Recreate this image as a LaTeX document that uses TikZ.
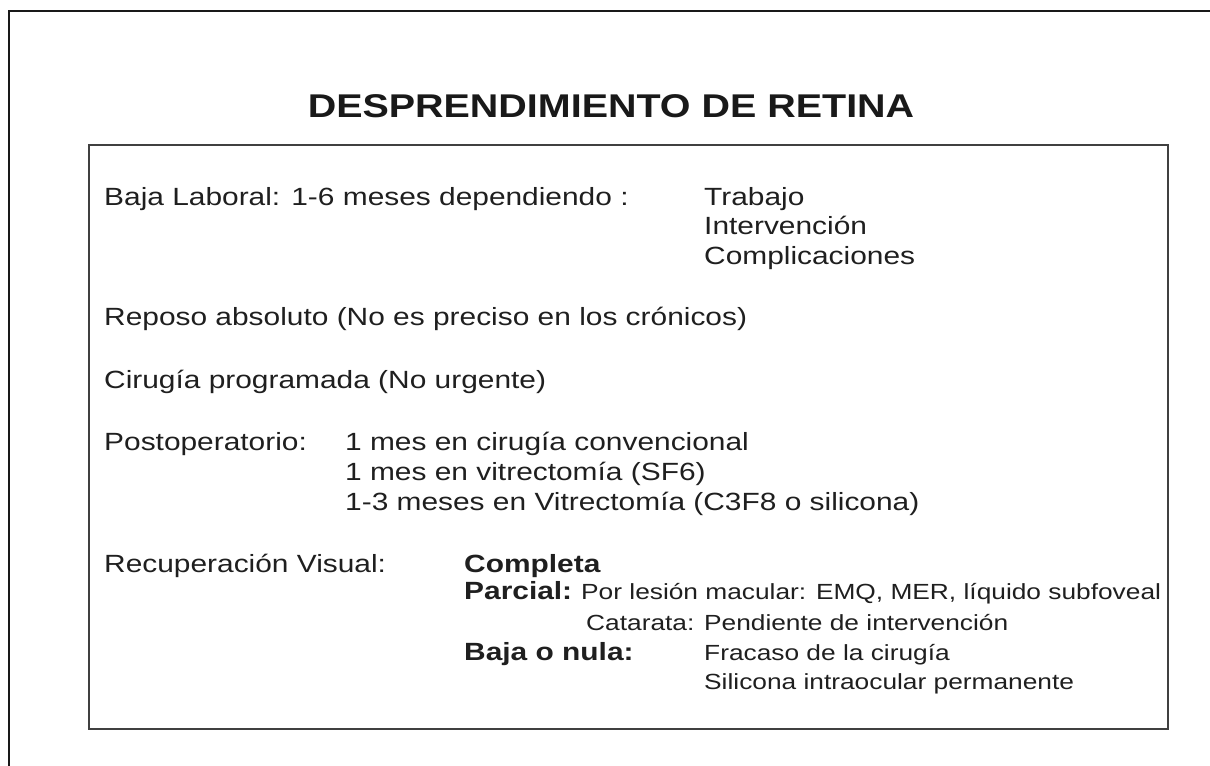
\documentclass[tikz,border=0pt]{standalone}
\usepackage{fontspec}
\setmainfont{Liberation Sans}[FakeStretch=1.2]
\usetikzlibrary{positioning}

\tikzset{
	texto/.style={anchor=base west, text=black!88, font=\fontsize{25}{30}\selectfont},
	negrita/.style={texto, font=\fontsize{25}{30}\selectfont\bfseries},
	chico/.style={texto, font=\fontsize{22}{26}\selectfont},
}

\begin{document}
\begin{tikzpicture}[x=1bp, y=-1bp, inner sep=0pt]
		\useasboundingbox (0,0) rectangle (1210,766);
		
		\draw [line width=2.2bp, black!90] (9,790) -- (9,11) -- (1230,11);
		\draw [line width=1.4bp, black!75] (89,145) rectangle (1168,729);
		
		\node [anchor=base, text=black!90, font=\fontsize{33}{40}\selectfont\bfseries] (titulo) at (611,118) {DESPRENDIMIENTO DE RETINA};
		
		\node [texto] (baja) at (104,205) {Baja Laboral: 1-6 meses dependiendo :};
		\node [texto] (trabajo) at (704,205) {Trabajo};
		\node [texto] (interv) at (704,234) {Intervención};
		\node [texto] (complic) at (704,264) {Complicaciones};
		
		\node [texto] (reposo) at (104,325) {Reposo absoluto (No es preciso en los crónicos)};
		
		\node [texto] (cirugia) at (104,388) {Cirugía programada (No urgente)};
		
		\node [texto] (postop) at (104,450) {Postoperatorio:};
		\node [texto] (conv) at (345,450) {1 mes en cirugía convencional};
		\node [texto] (sf6) at (345,480) {1 mes en vitrectomía (SF6)};
		\node [texto] (c3f8) at (345,510) {1-3 meses en Vitrectomía (C3F8 o silicona)};
		
		\node [texto] (recup) at (104,572) {Recuperación Visual:};
		\node [negrita] (completa) at (464,572) {Completa};
		\node [negrita] (parcial) at (464,599) {Parcial:};
		\node [chico] (macular) at (581,599) {Por lesión macular: EMQ, MER, líquido subfoveal};
		\node [chico] (catarata) at (586,630) {Catarata: Pendiente de intervención};
		\node [negrita] (nula) at (464,660) {Baja o nula:};
		\node [chico] (fracaso) at (704,660) {Fracaso de la cirugía};
		\node [chico] (silicona) at (704,689) {Silicona intraocular permanente};

\end{tikzpicture}
\end{document}
